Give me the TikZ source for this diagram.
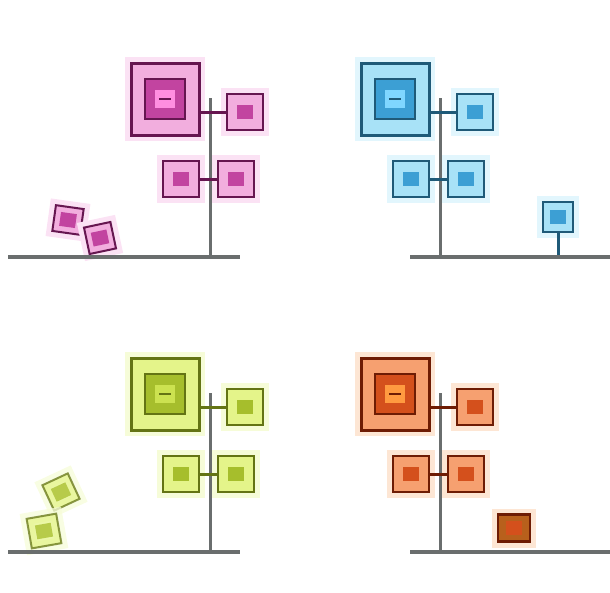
\documentclass[tikz,border=0pt]{standalone}
\usetikzlibrary{calc}

\definecolor{bark}{HTML}{6A6E6E}
\definecolor{pinkdk}{HTML}{661650}
\definecolor{pinkmd}{HTML}{C244A0}
\definecolor{pinklt}{HTML}{F2AEDE}
\definecolor{pinkbr}{HTML}{FF8EE0}
\definecolor{pinkhl}{HTML}{FBE2F4}
\definecolor{bluedk}{HTML}{1F5A78}
\definecolor{bluemd}{HTML}{3C9FD4}
\definecolor{bluelt}{HTML}{A8E2F7}
\definecolor{bluebr}{HTML}{7FD6FF}
\definecolor{bluehl}{HTML}{E2F6FD}
\definecolor{greendk}{HTML}{647414}
\definecolor{greenmd}{HTML}{A6BE2C}
\definecolor{greenlt}{HTML}{E4F48A}
\definecolor{greenbr}{HTML}{CCE250}
\definecolor{greenhl}{HTML}{F6FCD8}
\definecolor{orangedk}{HTML}{6E1C04}
\definecolor{orangemd}{HTML}{D4501C}
\definecolor{orangelt}{HTML}{F6A070}
\definecolor{orangebr}{HTML}{FF9A40}
\definecolor{orangehl}{HTML}{FDE6D4}
\definecolor{rust}{HTML}{B8601C}

\begin{document}
\begin{tikzpicture}[x=1pt,y=-1pt,
  leaf/.style={draw=#1dk,line width=2.5pt,fill=#1lt,inner sep=0pt,
    minimum size=36pt,preaction={draw=#1hl,line width=12pt},
    path picture={\fill[#1md] ([shift={(-8pt,-7pt)}]path picture bounding box.center)
      rectangle ++(16pt,14pt);}},
  big/.style={leaf=#1,minimum width=68pt,minimum height=72pt,line width=3pt,
    path picture={
      \draw[#1dk,line width=2.5pt,fill=#1md]
        ([shift={(-20pt,-20pt)}]path picture bounding box.center) rectangle ++(40pt,40pt);
      \fill[#1br] ([shift={(-10pt,-9pt)}]path picture bounding box.center)
        rectangle ++(20pt,18pt);
      \draw[#1dk,line width=2pt] ([shift={(-6pt,0pt)}]path picture bounding box.center)
        -- ++(12pt,0pt);}},
  twig/.style={draw=#1dk,line width=3pt},
  wood/.style={draw=bark,line width=3pt},
  soil/.style={draw=bark,line width=4pt}]
  \useasboundingbox (0,0) rectangle (610,592);

  % falling and fallen leaves
  \node[leaf=pink,minimum width=28pt,minimum height=26pt,line width=2pt,rotate=-8] (fall1) at (68,220) {};
  \node[leaf=pink,minimum size=27pt,line width=2pt,rotate=12] (fall2) at (100,238) {};
  \node[leaf=blue,minimum size=30pt,line width=2pt] (sprout) at (558,217) {};
  \coordinate (sprout root) at (558,257);
  \draw[twig=blue] (sprout.south) -- (sprout root);
  \node[leaf=green,minimum size=28pt,line width=2pt,rotate=25,opacity=.75] (fall3) at (61,492) {};
  \node[leaf=green,minimum size=30pt,line width=2pt,rotate=10,opacity=.75] (fall4) at (44,531) {};
  \node[leaf=orange,fill=rust,minimum width=32pt,minimum height=27pt,line width=2.5pt] (fallen) at (514,528) {};

  % the four trees
  \foreach \col/\dx/\dy/\ga/\gb [count=\i] in
      {pink/0/0/8/240,blue/230/0/180/380,green/0/295/8/240,orange/230/295/180/380}{
    \begin{scope}[shift={(\dx,\dy)}]
      \node[big=\col] (big\i) at (165,99) {};
      \node[leaf=\col] (r\i) at (245,112) {};
      \node[leaf=\col] (ll\i) at (181,179) {};
      \node[leaf=\col] (lr\i) at (236,179) {};
      \coordinate (top\i) at (210,98);
      \coordinate (root\i) at (210,257);
      \coordinate (ga\i) at (\ga,257);
      \coordinate (gb\i) at (\gb,257);
      \draw[wood] (top\i) -- (root\i);
      \draw[twig=\col] (big\i.east |- r\i.west) -- (r\i.west);
      \draw[twig=\col] (ll\i.east) -- (lr\i.west);
      \draw[soil] (ga\i) -- (gb\i);
    \end{scope}
  }
\end{tikzpicture}
\end{document}
